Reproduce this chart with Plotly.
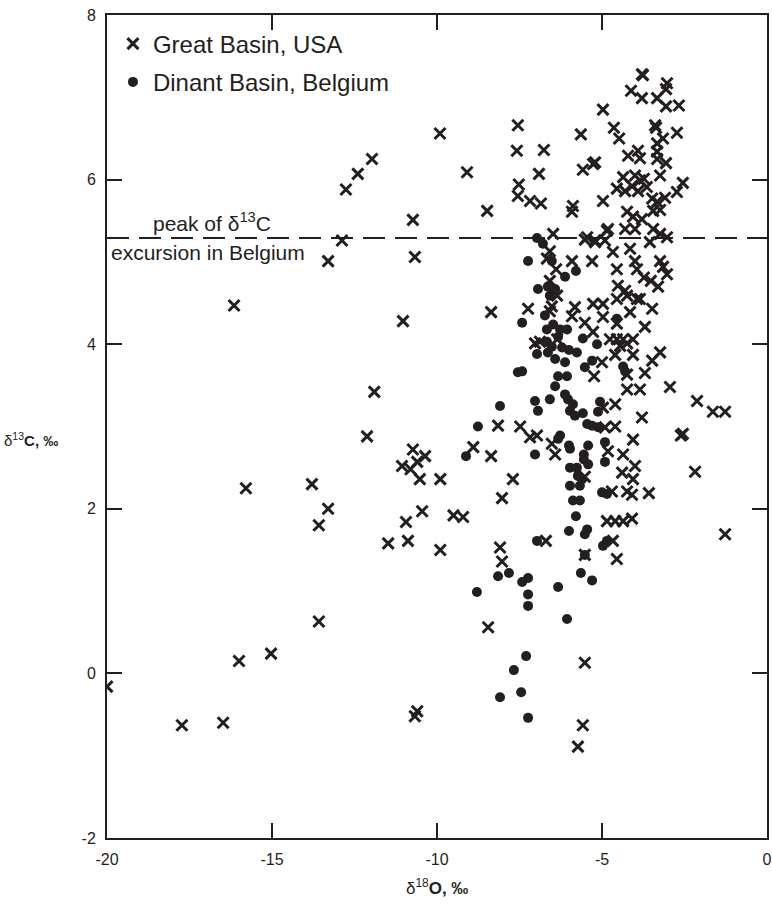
import plotly.graph_objects as go

# Great Basin, USA (crosses)
gb_d18O = [
    -20.0, -17.73, -16.48, -16.15, -16.0, -15.03, -15.79, -13.79, -13.3, -13.58,
    -13.58, -12.88, -13.3, -12.76, -12.4, -11.97, -9.91, -10.73, -10.67, -11.03,
    -11.9, -12.12, -10.73, -10.36, -11.06, -10.8, -10.6, -10.52, -9.9, -10.45,
    -10.94, -11.48, -10.88, -9.9, -10.6, -10.67, -9.09, -8.48, -9.21, -9.5,
    -8.9, -8.36, -8.15, -7.48, -7.18, -6.97, -6.52, -6.42, -7.7, -8.03,
    -8.09, -8.03, -8.45, -6.7, -5.52, -5.52, -5.58, -5.73, -8.36, -7.24,
    -7.55, -7.58, -6.76, -6.91, -7.52, -7.55, -7.18, -6.85, -6.48, -5.88,
    -5.91, -5.64, -5.58, -5.21, -5.27, -4.97, -4.97, -4.64, -4.48, -3.79,
    -3.76, -4.12, -3.79, -3.33, -3.06, -3.03, -3.06, -2.67, -3.39, -3.36,
    -2.73, -3.15, -3.33, -3.91, -4.21, -3.85, -3.33, -3.33, -3.06, -4.36,
    -4.0, -3.85, -3.73, -3.24, -4.55, -4.3, -4.09, -3.91, -3.64, -2.55,
    -2.73, -3.48, -3.33, -3.09, -3.45, -3.24, -4.24, -4.06, -3.79, -4.3,
    -4.82, -4.0, -3.45, -3.24, -3.03, -5.45, -5.21, -4.91, -4.67, -4.15,
    -6.58, -6.67, -5.91, -5.3, -6.39, -4.55, -4.0, -3.94, -3.24, -3.15,
    -3.03, -3.73, -3.52, -6.58, -4.52, -4.3, -4.24, -3.94, -3.85, -3.3,
    -6.36, -6.52, -6.58, -5.82, -5.91, -5.27, -4.97, -4.55, -4.15, -3.48,
    -5.52, -5.27, -4.97, -4.55, -3.7, -4.76, -4.55, -4.36, -4.06, -7.03,
    -6.36, -6.88, -5.0, -5.24, -4.6, -4.06, -4.45, -4.24, -3.48, -3.24,
    -3.7, -4.24, -4.24, -3.85, -2.94, -4.6, -4.97, -3.79, -4.6, -4.91,
    -4.06, -4.82, -4.36, -4.0, -4.39, -4.06, -5.52, -2.12, -1.64, -1.27,
    -2.55, -2.61, -2.18, -3.58, -4.7, -4.24, -4.09, -4.85, -4.6, -4.36,
    -4.09, -4.67, -4.55, -1.27, -4.85, -5.52, -5.21, -3.55,
]
gb_d13C = [
    -0.16, -0.63, -0.60, 4.47, 0.15, 0.24, 2.25, 2.30, 2.0, 1.80,
    0.63, 5.26, 5.01, 5.88, 6.07, 6.25, 6.56, 5.51, 5.06, 4.28,
    3.42, 2.88, 2.72, 2.64, 2.52, 2.48, 2.57, 2.36, 2.36, 1.97,
    1.84, 1.58, 1.61, 1.50, -0.46, -0.52, 6.09, 5.62, 1.90, 1.92,
    2.75, 2.64, 3.01, 3.00, 2.87, 2.89, 2.79, 2.66, 2.36, 2.13,
    1.53, 1.36, 0.56, 1.61, 1.44, 0.13, -0.63, -0.89, 4.39, 4.43,
    6.66, 6.35, 6.36, 6.07, 5.94, 5.80, 5.74, 5.71, 5.34, 5.68,
    5.61, 6.55, 6.12, 6.21, 6.19, 5.74, 6.85, 6.63, 6.50, 7.28,
    7.27, 7.08, 6.99, 6.99, 7.10, 7.17, 6.89, 6.90, 6.66, 6.63,
    6.57, 6.50, 6.44, 6.35, 6.29, 6.26, 6.34, 6.25, 6.20, 6.03,
    6.05, 5.99, 6.01, 6.05, 5.89, 5.86, 5.92, 5.86, 5.91, 5.96,
    5.85, 5.77, 5.73, 5.78, 5.62, 5.63, 5.61, 5.55, 5.52, 5.40,
    5.40, 5.40, 5.40, 5.34, 5.30, 5.30, 5.26, 5.26, 5.12, 5.16,
    5.13, 5.04, 5.01, 5.01, 4.91, 4.91, 5.01, 4.91, 5.01, 4.94,
    4.85, 4.81, 4.77, 4.77, 4.71, 4.65, 4.59, 4.55, 4.55, 4.70,
    4.59, 4.46, 4.40, 4.45, 4.34, 4.49, 4.49, 4.55, 4.39, 4.43,
    4.26, 4.15, 4.33, 4.25, 4.21, 4.06, 4.06, 4.06, 4.06, 4.01,
    4.06, 4.03, 3.78, 3.61, 3.87, 3.87, 3.98, 4.01, 3.80, 3.90,
    3.65, 3.63, 3.45, 3.45, 3.48, 3.27, 3.23, 3.11, 3.00, 2.99,
    2.84, 2.70, 2.66, 2.52, 2.44, 2.36, 2.39, 3.31, 3.18, 3.18,
    2.91, 2.89, 2.45, 2.19, 2.21, 2.21, 2.17, 1.85, 1.85, 1.85,
    1.88, 1.61, 1.39, 1.69, 5.38, 5.27, 5.24, 5.24,
]

# Dinant Basin, Belgium (dots)
db_d18O = [
    -6.97, -6.79, -7.24, -6.52, -6.12, -5.79, -6.94, -6.64, -6.42, -6.58,
    -6.73, -7.42, -6.67, -6.48, -6.27, -6.06, -5.58, -5.15, -4.55, -6.33,
    -6.67, -6.97, -6.64, -6.42, -6.12, -5.76, -6.52, -6.21, -6.0, -5.52,
    -5.3, -7.55, -7.42, -6.33, -6.06, -6.42, -4.36, -4.3, -8.09, -7.03,
    -6.94, -6.58, -6.12, -6.03, -5.88, -5.97, -5.82, -5.58, -5.06, -5.12,
    -5.45, -5.3, -5.12, -8.76, -6.27, -6.33, -5.42, -4.91, -5.97, -6.0,
    -7.03, -4.91, -5.55, -5.42, -5.55, -5.97, -5.76, -5.73, -5.6, -5.97,
    -5.67, -5.88, -5.67, -5.79, -6.0, -5.45, -5.52, -5.0, -4.85, -6.97,
    -4.97, -4.85, -5.52, -8.15, -7.82, -7.42, -7.24, -7.24, -7.24, -8.79,
    -6.33, -5.64, -5.3, -6.06, -7.3, -7.67, -8.09, -7.45, -7.24, -9.12,
]
db_d13C = [
    5.29, 5.22, 5.01, 5.01, 4.82, 4.89, 4.67, 4.70, 4.67, 4.59,
    4.35, 4.26, 4.18, 4.24, 4.18, 4.18, 4.07, 4.00, 4.31, 4.09,
    4.03, 3.88, 3.90, 3.82, 3.78, 3.90, 3.97, 3.96, 3.93, 3.72,
    3.80, 3.66, 3.67, 3.61, 3.61, 3.49, 3.73, 3.67, 3.25, 3.31,
    3.19, 3.33, 3.39, 3.33, 3.27, 3.19, 3.13, 3.16, 3.30, 3.18,
    3.03, 3.01, 2.99, 3.00, 2.89, 2.85, 2.77, 2.81, 2.73, 2.77,
    2.66, 2.57, 2.66, 2.54, 2.60, 2.50, 2.50, 2.40, 2.36, 2.28,
    2.28, 2.10, 2.10, 1.91, 1.73, 1.75, 1.69, 2.20, 2.18, 1.61,
    1.55, 1.61, 1.44, 1.18, 1.22, 1.11, 1.16, 0.96, 0.82, 0.99,
    1.05, 1.22, 1.13, 0.66, 0.21, 0.04, -0.29, -0.23, -0.54, 2.64,
]

peak_belgium = 5.29
x_ticks = [-20, -15, -10, -5, 0]
x_tick_labels = ["-20", "-15", "-10", "-5", "0"]
y_ticks = [-2, 0, 2, 4, 6, 8]
y_tick_labels = ["-2", "0", "2", "4", "6", "8"]

INK = "#231f20"
FONT = "Liberation Sans, Arial, Helvetica, sans-serif"

fig = go.Figure()
fig.add_trace(go.Scatter(
    x=gb_d18O, y=gb_d13C, mode="markers", name="Great Basin, USA",
    legendgroup="a",
    marker=dict(symbol="x-thin", size=11, color=INK, line=dict(width=3, color=INK)),
))
fig.add_trace(go.Scatter(
    x=db_d18O, y=db_d13C, mode="markers", name="Dinant Basin, Belgium",
    legendgroup="b",
    marker=dict(symbol="circle", size=10, color=INK, line=dict(width=0)),
))

fig.add_shape(type="line", xref="x", yref="y", x0=-20, x1=0,
              y0=peak_belgium, y1=peak_belgium,
              line=dict(color=INK, width=2, dash="22px,10px"), layer="below")

fig.add_annotation(x=-18.66, y=peak_belgium + 0.19, xref="x", yref="y",
                   text="peak of δ<sup>13</sup>C", showarrow=False,
                   xanchor="left", yanchor="middle",
                   font=dict(family=FONT, size=21, color=INK))
fig.add_annotation(x=-19.93, y=peak_belgium - 0.18, xref="x", yref="y",
                   text="excursion in Belgium", showarrow=False,
                   xanchor="left", yanchor="middle",
                   font=dict(family=FONT, size=21, color=INK))

# axis titles
fig.add_annotation(x=0.5, y=0, xref="paper", yref="paper", yshift=-49,
                   text="δ<sup>18</sup><b>O, ‰</b>", showarrow=False,
                   xanchor="center", yanchor="middle",
                   font=dict(family=FONT, size=17, color=INK))
fig.add_annotation(x=-0.159, y=0.484, xref="paper", yref="paper",
                   text="δ<sup>13</sup><b>C, ‰</b>", showarrow=False,
                   xanchor="left", yanchor="middle",
                   font=dict(family=FONT, size=15, color=INK))

axis_common = dict(
    showgrid=False, zeroline=False, showline=True, linewidth=2, linecolor=INK,
    mirror="allticks", ticks="inside", ticklen=15, tickwidth=2, tickcolor=INK,
    tickfont=dict(family=FONT, size=16, color=INK), ticklabelstandoff=6,
    automargin=False,
)
fig.update_xaxes(range=[-20, 0], tickvals=x_ticks, ticktext=x_tick_labels, **axis_common)
fig.update_yaxes(range=[-2, 8], tickvals=y_ticks, ticktext=y_tick_labels, **axis_common)

fig.update_layout(
    width=772, height=913,
    margin=dict(l=107, r=5, t=15, b=75),
    paper_bgcolor="white", plot_bgcolor="white",
    showlegend=True,
    legend=dict(x=0.009, y=0.992, xanchor="left", yanchor="top",
                bgcolor="rgba(0,0,0,0)", tracegroupgap=4,
                font=dict(family=FONT, size=24, color=INK)),
)

# remove the browser's default body margin so the figure fills the window exactly
fig.write_html(
    "out.html",
    config={"displayModeBar": False},
    post_script="document.body.style.margin='0';document.body.style.overflow='hidden';",
)
